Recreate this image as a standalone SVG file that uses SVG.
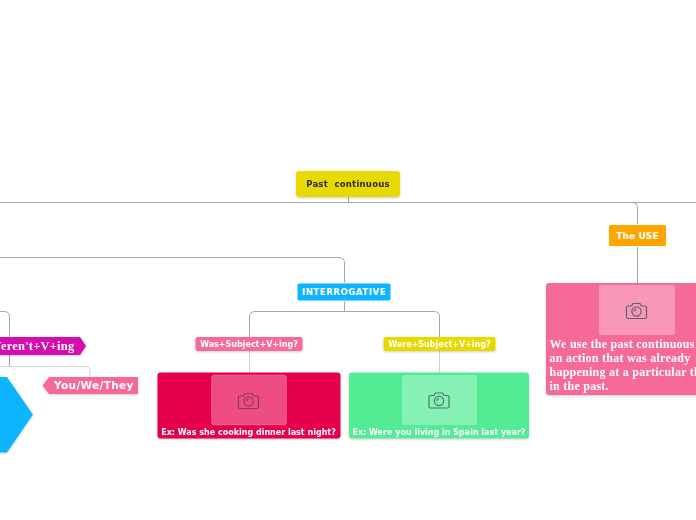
<svg xmlns="http://www.w3.org/2000/svg" width="696" height="520" viewBox="0 0 696 520">
<defs>
<filter id="sh" x="-10%" y="-10%" width="120%" height="130%"><feDropShadow dx="0" dy="1" stdDeviation="1" flood-color="#000" flood-opacity="0.2"/></filter>
<g id="cam" fill="none" stroke-width="1.200" stroke-linejoin="round">
<path d="M-8.500,-5 h3.500 l1.500,-2.500 h7 l1.500,2.500 h3.500 a1.500,1.500 0 0 1 1.500,1.500 v9.500 a1.500,1.500 0 0 1 -1.500,1.500 h-17 a1.500,1.500 0 0 1 -1.500,-1.500 v-9.500 a1.500,1.500 0 0 1 1.500,-1.500 z"/>
<circle cx="0" cy="0.500" r="4.600"/>
<path d="M-2.200,0.500 a2.200,2.200 0 0 1 2.200,-2.200"/>
</g>
</defs>
<style>
text{font-family:"DejaVu Sans",sans-serif;font-weight:700;fill:#fff;white-space:pre}
.serif{font-family:"Liberation Serif",serif}
.c{fill:none;stroke:#a6a6a6;stroke-width:1}
.l{fill:none;stroke:#d0d0d0;stroke-width:1}
.thumb{fill:#fff;fill-opacity:.3}
.m{text-anchor:middle}
</style>
<rect width="696" height="520" fill="#fff"/>
<g id="connectors">
<path class="c" d="M348.500,197V202.500M0,202.500H696M632,202.500Q637.500,202.500 637.500,208V225M637.500,246V283"/>
<path class="c" d="M0,257.500H339Q344.500,257.500 344.500,263V284M344.500,300V311.500M255,311.500H434Q439.500,311.500 439.500,317V337M255,311.500Q249.500,311.500 249.500,317V337"/>
<path class="l" d="M249.500,351V373M439.500,351V373"/>
<path class="c" d="M0,311.500H4Q9.500,311.500 9.500,317V337M9.500,355V366.500"/>
<path class="l" d="M0,366.500H85Q90,366.500 90,371V377"/>
</g>
<g id="node-root" filter="url(#sh)"><rect x="296" y="171" width="104" height="26" rx="3" fill="#e8d900"/><text x="348" y="187" class="m" font-size="8.500" letter-spacing=".25" style="fill:#2b2b2b">Past  continuous</text></g>
<g id="node-use"><rect x="608.500" y="224.500" width="58" height="22" rx="2" fill="#ffa500" stroke="#fff" stroke-width="1"/><text x="637.500" y="239" class="m" font-size="9" letter-spacing=".1">The USE</text></g>
<g id="node-use-card" filter="url(#sh)"><rect x="546" y="283" width="160" height="112" rx="3" fill="#f66a9b"/><rect class="thumb" x="599" y="285" width="76" height="50" rx="2"/><use href="#cam" x="636.500" y="311" stroke="#5f5f70"/>
<text class="serif" font-size="12" letter-spacing=".25"><tspan x="549.500" y="348">We use the past continuous</tspan><tspan x="549.500" y="362">an action that was already</tspan><tspan x="549.500" y="376">happening at a particular th</tspan><tspan x="549.500" y="390">in the past.</tspan></text></g>
<g id="node-interrogative"><rect x="297" y="283" width="94" height="18" rx="2" fill="#0db4ff" stroke="#fff" stroke-width="1"/><text x="344" y="295" class="m" font-size="8.500" letter-spacing=".6">INTERROGATIVE</text></g>
<g id="node-was" filter="url(#sh)"><rect x="195.500" y="337" width="107" height="14" rx="2" fill="#f66a9b"/><text x="249" y="347" class="m" font-size="8">Was+Subject+V+ing?</text></g>
<g id="node-were" filter="url(#sh)"><rect x="383.500" y="337" width="112" height="14" rx="2" fill="#e8d900"/><text x="439.500" y="347" class="m" font-size="8">Were+Subject+V+ing?</text></g>
<g id="node-was-card" filter="url(#sh)"><rect x="157.500" y="372.500" width="183" height="66" rx="3" fill="#e6004c"/><rect class="thumb" x="211.500" y="375" width="75" height="50" rx="3" stroke="#fff" stroke-opacity=".2"/><use href="#cam" x="248.500" y="401" stroke="#8d3a5b"/><text x="248.500" y="435" class="m" font-size="8">Ex: Was she cooking dinner last night?</text></g>
<g id="node-were-card" filter="url(#sh)"><rect x="349" y="372.500" width="180" height="66" rx="3" fill="#52eb94"/><rect class="thumb" x="402" y="375" width="75" height="50" rx="2"/><use href="#cam" x="439" y="400.500" stroke="#4f7569"/><text x="439" y="435" class="m" font-size="8">Ex: Were you living in Spain last year?</text></g>
<g id="node-werent" filter="url(#sh)"><path d="M-10,337H80L86,346L80,355H-10Z" fill="#d507ac"/><text class="serif" x="-11" y="350" font-size="12.500" letter-spacing=".2">Weren't+V+ing</text></g>
<g id="node-you" filter="url(#sh)"><path d="M49,377H138V394H49L42.500,385.500Z" fill="#f66a9b"/><text x="54" y="389" font-size="10.500" letter-spacing=".35">You/We/They</text></g>
<g id="node-hex" filter="url(#sh)"><path d="M-10,377H7L33,414.500L7,452.500H-10Z" fill="#0db4ff"/></g>
</svg>
